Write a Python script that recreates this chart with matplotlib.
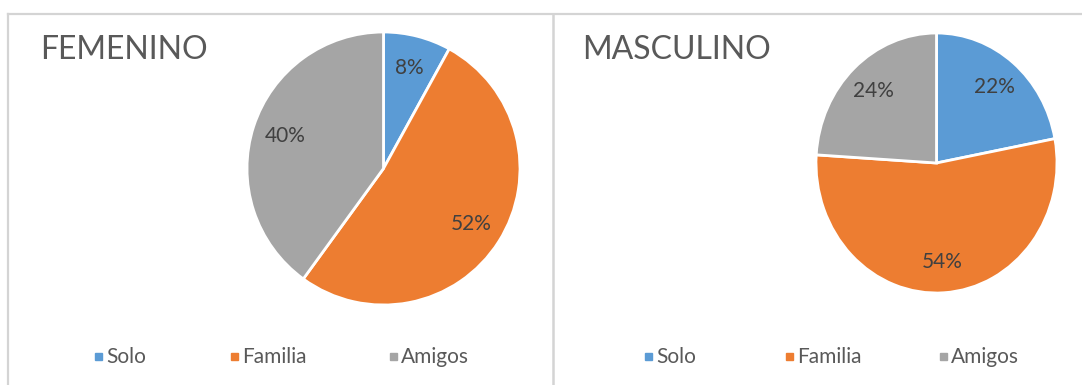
import matplotlib.pyplot as plt
from matplotlib.patches import Rectangle
from matplotlib.lines import Line2D

plt.rcParams['font.family'] = ['Lato', 'DejaVu Sans']

categorias = ['Solo', 'Familia', 'Amigos']
colores = ['#5B9BD5', '#ED7D31', '#A5A5A5']

femenino = [8, 52, 40]
masculino = [22, 54, 24]

W, H = 1082, 385
fig = plt.figure(figsize=(W / 100, H / 100), dpi=100)


def caja(x0, y0, x1, y1):
    # pixel box (top-left origin) -> figure fraction
    return [x0 / W, 1 - y1 / H, (x1 - x0) / W, (y1 - y0) / H]


# panel frames
borde = '#d4d4d4'
fig.add_artist(Line2D([8 / W, 1], [1 - 14 / H] * 2, color=borde, lw=1.6))
fig.add_artist(Line2D([8 / W] * 2, [0, 1 - 14 / H], color=borde, lw=1.6))
fig.add_artist(Line2D([553 / W] * 2, [0, 1 - 14 / H], color=borde, lw=1.8))


def torta(valores, titulo, pie_box, titulo_x, leyenda_x):
    ax = fig.add_axes(caja(*pie_box))
    ax.pie(valores, colors=colores, startangle=90, counterclock=False,
           radius=1, autopct='%d%%', pctdistance=0.76,
           wedgeprops=dict(edgecolor='white', linewidth=2),
           textprops=dict(color='#404040', fontsize=15))
    ax.set_aspect('auto')
    ax.set_xlim(-1, 1)
    ax.set_ylim(-1, 1)
    ax.axis('off')

    fig.text(titulo_x / W, 1 - 50 / H, titulo, fontsize=23, color='#595959',
             va='center', ha='left')

    # legend: small squares followed by the category names
    for (xc, nombre, col) in zip(leyenda_x, categorias, colores):
        fig.add_artist(Rectangle((xc / W, 1 - 360 / H), 7 / W, 7 / H,
                                 transform=fig.transFigure, color=col))
        fig.text((xc + 11) / W, 1 - 357 / H, nombre, fontsize=15,
                 color='#595959', va='center', ha='left')


torta(femenino, 'FEMENINO', (247, 32, 520, 305), 40, [95, 231, 390])
torta(masculino, 'MASCULINO', (816, 33, 1057, 293), 582, [645, 786, 940])

fig.savefig('out.png', dpi=100, facecolor='white')
